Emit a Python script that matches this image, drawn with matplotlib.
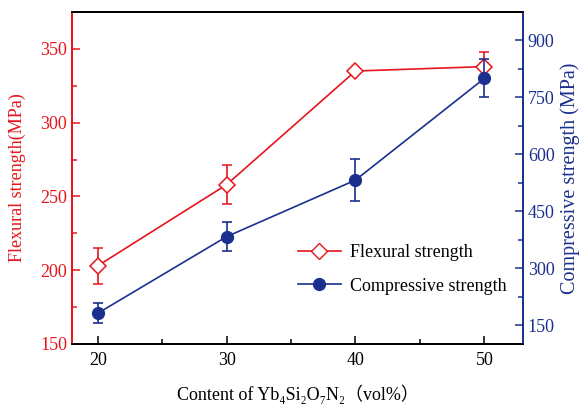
import matplotlib
matplotlib.use("Agg")
import matplotlib.pyplot as plt
from matplotlib.lines import Line2D
from matplotlib.ticker import MultipleLocator

content = [20, 30, 40, 50]
flexural = [203, 258, 335, 338]
flexural_err = [12, 13, 2, 10]
compressive = [181, 383, 532, 800]
compressive_err = [26, 38, 55, 50]

RED = "#e8141c"
BLUE = "#1b2f8f"
SERIF = ["Liberation Serif", "DejaVu Serif", "Noto Sans CJK SC"]
plt.rcParams["font.family"] = SERIF

fig = plt.figure(figsize=(5.84, 4.09), dpi=100)
ax1 = fig.add_axes([72/584, 65/409, (523-72)/584, (344-12)/409])
ax2 = ax1.twinx()

ax1.errorbar(content, flexural, yerr=flexural_err, color=RED, marker="D",
             markersize=8, markerfacecolor="white", markeredgecolor=RED,
             markeredgewidth=1.1, linewidth=1.2, capsize=3.5, elinewidth=1.2,
             capthick=1.2)
ax2.errorbar(content, compressive, yerr=compressive_err, color=BLUE, marker="o",
             markersize=8.5, markerfacecolor=BLUE, markeredgecolor=BLUE,
             linewidth=1.2, capsize=3.5, elinewidth=1.2, capthick=1.2)

ax1.set_xlim(18, 53)
ax1.set_ylim(150, 375)
ax2.set_ylim(100, 975)

ax1.set_xticks(content)
ax1.xaxis.set_minor_locator(MultipleLocator(5))
ax1.set_yticks([150, 200, 250, 300, 350])
ax1.yaxis.set_minor_locator(MultipleLocator(25))
ax2.set_yticks([150, 300, 450, 600, 750, 900])
ax2.yaxis.set_minor_locator(MultipleLocator(75))

ax1.tick_params(axis="x", which="both", direction="in", colors="black",
                labelsize=13, pad=6)
ax1.tick_params(axis="x", which="major", length=6, width=1.1)
ax1.tick_params(axis="x", which="minor", length=3.5, width=1.1)
ax1.tick_params(axis="y", which="both", direction="in", colors=RED, labelsize=13)
ax1.tick_params(axis="y", which="major", length=6, width=1.1)
ax1.tick_params(axis="y", which="minor", length=3.5, width=1.1)
ax2.tick_params(axis="y", which="both", direction="in", colors=BLUE, labelsize=13)
ax2.tick_params(axis="y", which="major", length=6, width=1.1)
ax2.tick_params(axis="y", which="minor", length=3.5, width=1.1)

for ax in (ax1, ax2):
    ax.spines["left"].set_color(RED)
    ax.spines["right"].set_color(BLUE)
    ax.spines["top"].set_color("black")
    ax.spines["bottom"].set_color("black")
    for s in ax.spines.values():
        s.set_linewidth(1.3)

ax1.set_ylabel("Flexural strength(MPa)", color=RED, fontsize=13, labelpad=10)
ax2.set_ylabel("Compressive strength (MPa)", color=BLUE, fontsize=14.5, labelpad=4)
ax1.set_xlabel("Content of Yb\u2084Si\u2082O\u2087N\u2082\uff08vol%\uff09",
               fontsize=13, labelpad=11)

handles = [
    Line2D([], [], color=RED, marker="D", markersize=8, markerfacecolor="white",
           markeredgecolor=RED, linewidth=1.2),
    Line2D([], [], color=BLUE, marker="o", markersize=8.5, markerfacecolor=BLUE,
           linewidth=1.2),
]
ax2.legend(handles, ["Flexural strength", "Compressive strength"],
           loc="lower right", bbox_to_anchor=(1.0, 0.1), frameon=False,
           fontsize=13, handlelength=2.4, handletextpad=0.5, labelspacing=0.9)

fig.savefig("out.png", dpi=100)
